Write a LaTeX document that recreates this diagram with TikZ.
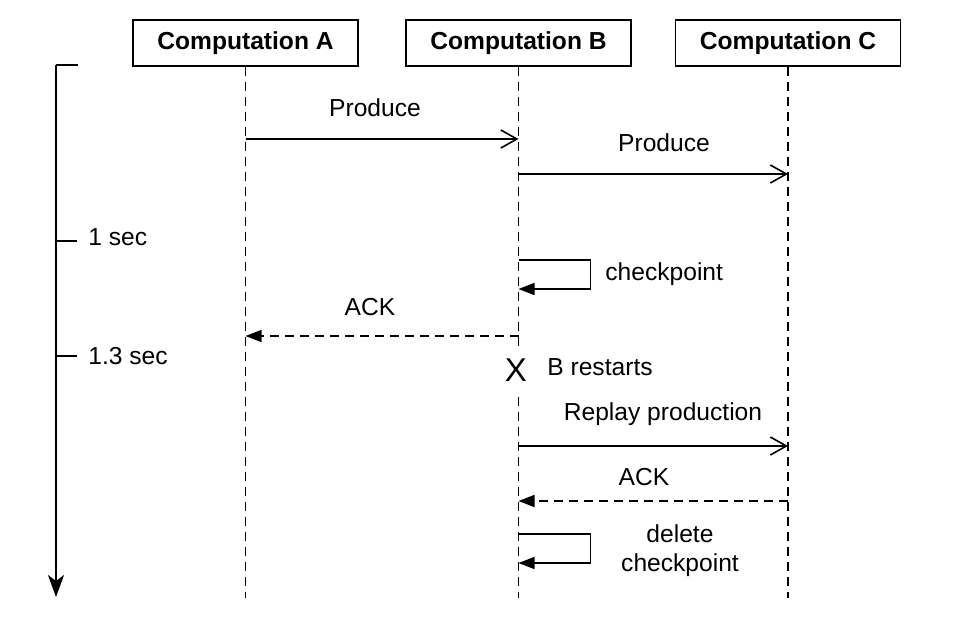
\documentclass[tikz,border=0pt]{standalone}
\usepackage{fontspec}
\setmainfont{Liberation Sans}
\usetikzlibrary{arrows.meta, positioning}

\begin{document}
\begin{tikzpicture}[
  x=0.5pt, y=-0.5pt,
  proc/.style={rectangle, draw, line width=0.7pt, minimum width=112.5pt,
               minimum height=23pt, inner sep=0pt,
               font=\fontsize{12.3}{14}\selectfont\bfseries},
  life/.style={line width=0.75pt, dash pattern=on 4.5pt off 3pt},
  msg/.style={-{Straight Barb[length=8pt,width=9pt]}, line width=0.8pt},
  ack/.style={-{Triangle[length=8pt,width=6pt]}, line width=0.8pt,
              dash pattern=on 4.5pt off 3pt},
  selfloop/.style={-{Triangle[length=8pt,width=6pt]}, line width=0.8pt},
  axis/.style={-{Stealth[length=11pt,width=8pt,inset=3pt]}, line width=1pt},
  lbl/.style={font=\fontsize{12.3}{14.5}\selectfont, inner sep=1pt},
]
  \useasboundingbox (0,0) rectangle (976,634);

  % processes and lifelines
  \node[proc] (A) at (245.5,43) {Computation A};
  \node[proc] (B) at (518.5,43) {Computation B};
  \node[proc] (C) at (788,43)   {Computation C};

  \coordinate (Aend) at (245.5,598);
  \coordinate (Bend) at (518.5,598);
  \coordinate (Cend) at (788,598);

  \draw[life] (A.south) -- (Aend);
  \draw[life] (B.south) -- (Bend);
  \draw[life] (C.south) -- (Cend);

  % time axis
  \coordinate (t0)   at (56,65);
  \coordinate (ttop) at (78,65);
  \coordinate (tend) at (56,597);
  \coordinate (k1)   at (56,241);
  \coordinate (k2)   at (56,356);
  \draw[line width=1pt] (ttop) -- (t0);
  \draw[axis] (t0) -- (tend);

  \node[lbl, anchor=west, inner xsep=5.5pt] (s1) at (77,237) {1 sec};
  \node[lbl, anchor=west, inner xsep=5.5pt] (s2) at (77,356) {1.3 sec};
  \draw[line width=0.9pt] (k1) -- (k1 -| s1.west);
  \draw[line width=0.9pt] (k2) -- (k2 -| s2.west);

  % message end points on the lifelines
  \coordinate (a1) at (245.5,139);  \coordinate (b1) at (518.5,139);
  \coordinate (b2) at (518.5,174);  \coordinate (c2) at (788,174);
  \coordinate (b3) at (518.5,260);  \coordinate (b4) at (518.5,289);
  \coordinate (b5) at (518.5,336);  \coordinate (a5) at (245.5,336);
  \coordinate (b6) at (518.5,446);  \coordinate (c6) at (788,446);
  \coordinate (c7) at (788,501);    \coordinate (b7) at (518.5,501);
  \coordinate (b8) at (518.5,534);  \coordinate (b9) at (518.5,563);

  % messages
  \draw[msg] (a1) -- (b1);
  \node[lbl] (p1) at (375,108) {Produce};
  \draw[msg] (b2) -- (c2);
  \node[lbl] (p2) at (664,143) {Produce};

  \draw[selfloop] (b3) -- ++(72,0) |- (b4);
  \node[lbl, anchor=west] (cp) at (603,274) {checkpoint};

  \draw[ack] (b5) -- (a5);
  \node[lbl] (k1lbl) at (370,307) {ACK};

  % restart of B
  \node[fill=white, inner xsep=1pt, minimum height=22pt, text depth=0pt,
        font=\fontsize{16.5}{17}\selectfont] (X) at (516,370) {X};
  \node[lbl, anchor=west] (rs) at (545,367) {B restarts};

  \draw[msg] (b6) -- (c6);
  \node[lbl] (rp) at (663,414) {Replay production};

  \draw[ack] (c7) -- (b7);
  \node[lbl] (k2lbl) at (644,477) {ACK};

  \draw[selfloop] (b8) -- ++(72,0) |- (b9);
  \node[lbl, align=center] (dc) at (680,551) {delete\\checkpoint};
\end{tikzpicture}
\end{document}
